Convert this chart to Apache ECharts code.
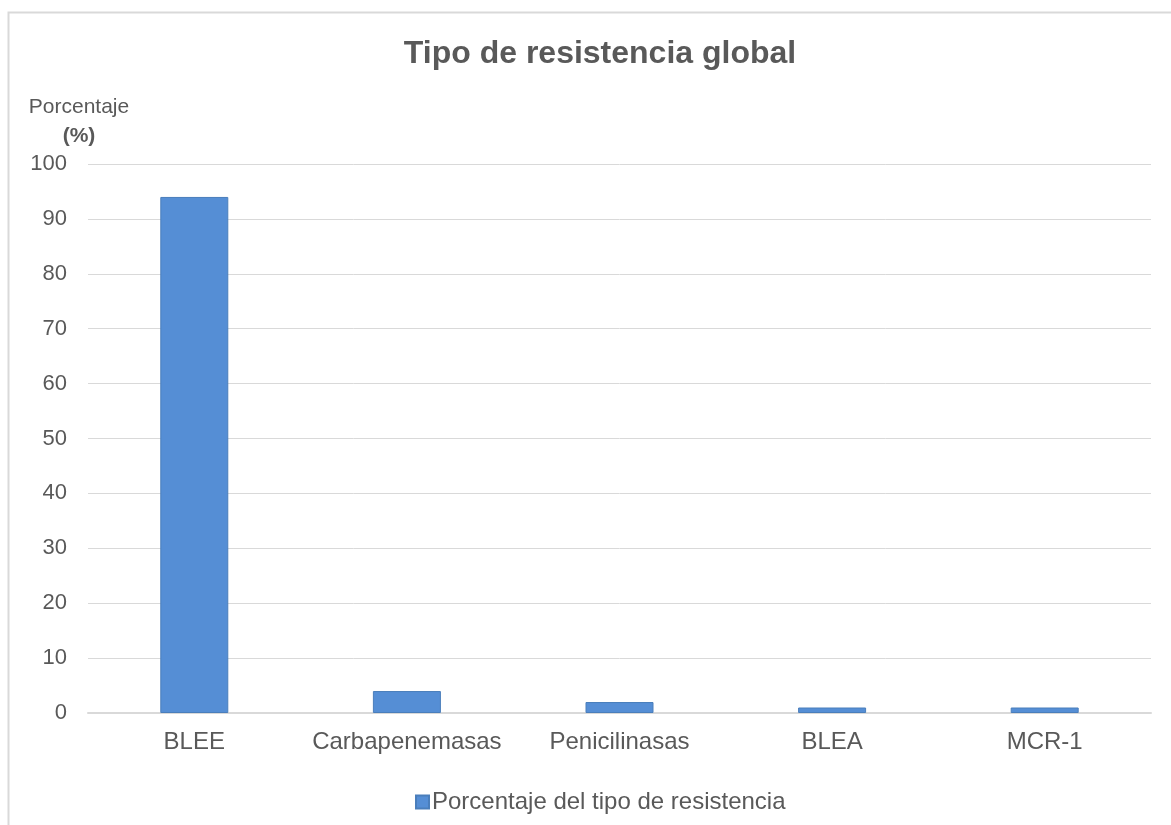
<!DOCTYPE html>
<html>
<head>
<meta charset="utf-8">
<script src="https://cdn.jsdelivr.net/npm/echarts@6/dist/echarts.min.js"></script>
<style>
  html, body { margin: 0; padding: 0; background: #fff; }
  #chart { width: 1171px; height: 825px; }
</style>
</head>
<body>
<div id="chart"></div>
<script>
const categories = ['BLEE', 'Carbapenemasas', 'Penicilinasas', 'BLEA', 'MCR-1'];
const values = [94, 4, 2, 1, 1];
const seriesName = 'Porcentaje del tipo de resistencia';

const textColor = '#595959';
const gridColor = '#d9d9d9';
const font = 'Liberation Sans, Arial, sans-serif';

const chart = echarts.init(document.getElementById('chart'));

chart.setOption({
  animation: false,
  textStyle: { fontFamily: font },
  graphic: [{
    type: 'rect',
    shape: { x: 8.5, y: 12.5, width: 1300, height: 1000 },
    style: { fill: 'none', stroke: gridColor, lineWidth: 2 },
    silent: true
  }],
  title: {
    text: 'Tipo de resistencia global',
    left: 595,
    top: 33,
    textAlign: 'center',
    textStyle: { fontSize: 32, fontWeight: 'bold', color: textColor, fontFamily: font }
  },
  legend: {
    data: [seriesName],
    left: 410,
    top: 785,
    icon: 'rect',
    itemWidth: 13,
    itemHeight: 13,
    itemGap: 4,
    textStyle: { fontSize: 24, color: textColor, fontFamily: font, padding: [0, 0, 0, -2] }
  },
  grid: { left: 88, right: 20, top: 164, bottom: 112 },
  xAxis: {
    type: 'category',
    data: categories,
    axisLine: { lineStyle: { color: gridColor, width: 2 } },
    axisTick: { show: false },
    axisLabel: { fontSize: 24, color: textColor, margin: 17, fontFamily: font, interval: 0, hideOverlap: false }
  },
  yAxis: {
    type: 'value',
    min: 0,
    max: 100,
    interval: 10,
    name: '{a|Porcentaje}\n{b|(%)}',
    nameLocation: 'end',
    nameGap: 13,
    nameTextStyle: {
      align: 'center',
      padding: [0, 18, 0, 0],
      rich: {
        a: { fontSize: 21, color: textColor, fontFamily: font, lineHeight: 29 },
        b: { fontSize: 21, fontWeight: 'bold', color: textColor, fontFamily: font, lineHeight: 29 }
      }
    },
    axisLine: { show: false },
    axisTick: { show: false },
    axisLabel: { fontSize: 22, color: textColor, margin: 21, fontFamily: font },
    splitLine: { lineStyle: { color: gridColor, width: 1 } }
  },
  series: [{
    name: seriesName,
    type: 'bar',
    data: values,
    barWidth: 68,
    itemStyle: { color: '#558ed5', borderColor: '#4a7ebb', borderWidth: 1 }
  }]
});
</script>
</body>
</html>
